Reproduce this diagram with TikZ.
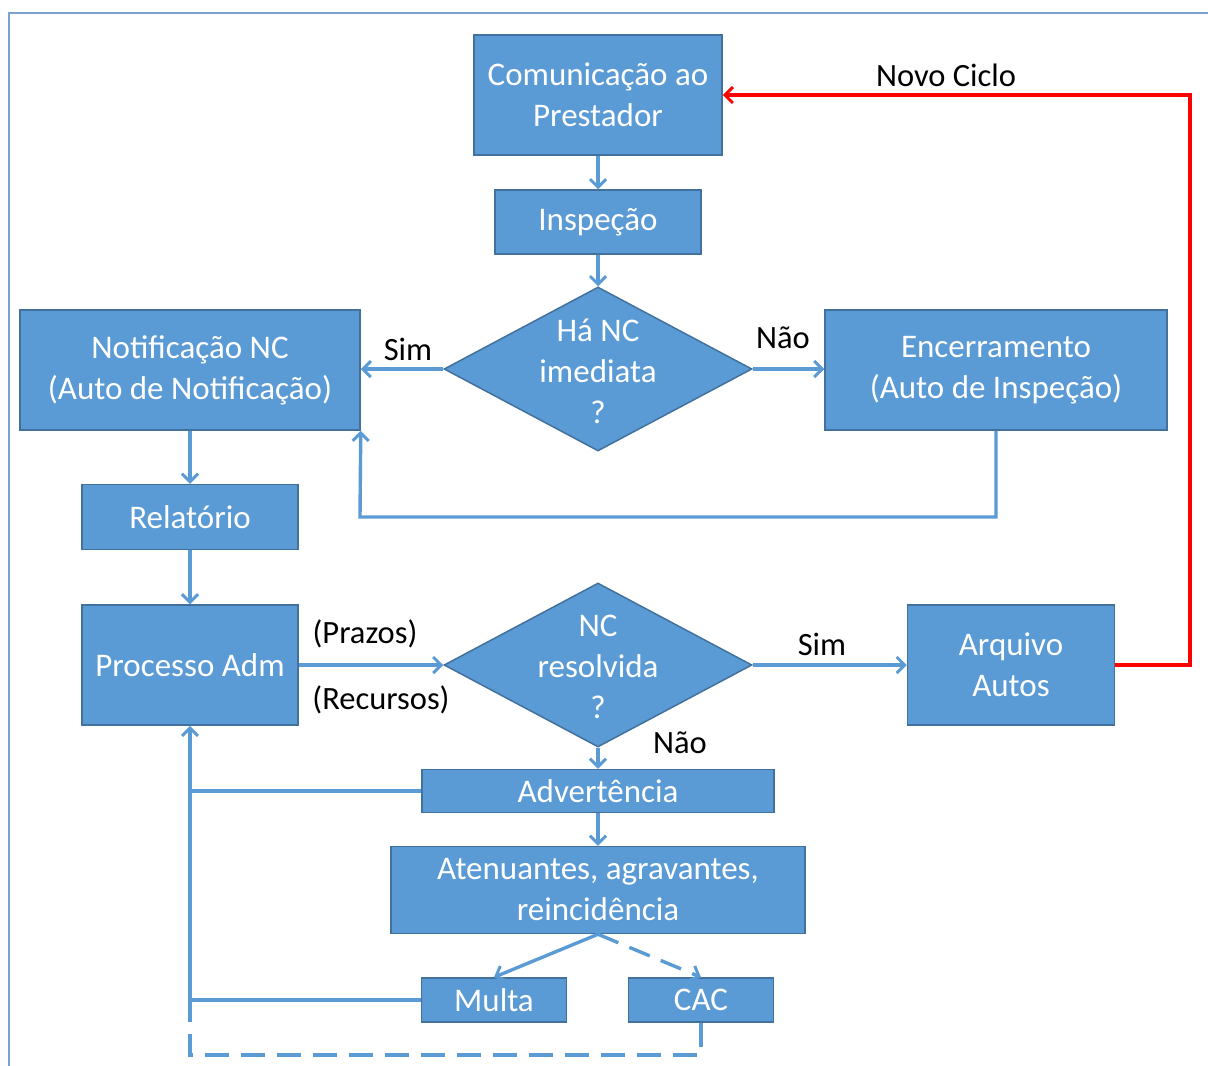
\documentclass[tikz,border=0pt]{standalone}
\usepackage{fontspec}
\setmainfont{Carlito}
\usetikzlibrary{arrows.meta,shapes.geometric}
\definecolor{boxblue}{HTML}{5B9BD5}
\definecolor{boxedge}{HTML}{41719C}
\definecolor{framec}{HTML}{7BA2CE}
\tikzset{
  box/.style={rectangle, draw=boxedge, line width=1.5pt, fill=boxblue, text=white, align=center, inner sep=0pt,
    font=\fontsize{33}{41}\selectfont},
  dia/.style={diamond, draw=boxedge, line width=1.5pt, fill=boxblue, inner sep=0pt},
  diatext/.style={text=white, align=center, inner sep=0pt, font=\fontsize{33}{41}\selectfont},
  lbl/.style={text=black, inner sep=0pt, font=\fontsize{32.5}{41}\selectfont},
  conn/.style={draw=boxblue, line width=3.4pt, -{Straight Barb[length=8pt,width=16pt,line width=3pt]}},
  plain/.style={draw=boxblue, line width=3.4pt},
  dashconn/.style={draw=boxblue, line width=3.4pt, dash pattern=on 24pt off 12pt},
  redconn/.style={draw=red, line width=4pt, -{Straight Barb[length=8pt,width=16pt,line width=3pt]}}
}
\begin{document}
\begin{tikzpicture}[x=1pt,y=-1pt]
\useasboundingbox (0,0) rectangle (1208,1066);
\draw[framec, line width=1.6pt] (9,1066) -- (9,13) -- (1208,13);

\node[box, minimum width=248pt, minimum height=120pt] (com) at (598,95) {Comunicação ao\\Prestador};
\node[box, minimum width=206pt, minimum height=64pt] (insp) at (598,222) {Inspeção};
\node[dia, minimum width=308pt, minimum height=164pt] (d1) at (598,369) {};
\node[diatext] (d1t) at (598,371) {Há NC\\imediata\\?};
\node[box, minimum width=340pt, minimum height=120pt] (notif) at (190,370) {Notificação NC\\(Auto de Notificação)};
\node[box, minimum width=342pt, minimum height=120pt] (enc) at (996,370) {Encerramento\\(Auto de Inspeção)};
\node[box, minimum width=216pt, minimum height=65pt] (rel) at (190,517) {Relatório};
\node[box, minimum width=216pt, minimum height=120pt] (proc) at (190,665) {Processo Adm};
\node[dia, minimum width=308pt, minimum height=164pt] (d2) at (598,665) {};
\node[diatext] (d2t) at (598,667) {NC\\resolvida\\?};
\node[box, minimum width=207pt, minimum height=120pt] (arq) at (1011,665) {Arquivo\\Autos};
\node[box, minimum width=352pt, minimum height=43pt] (adv) at (598,791) {Advertência};
\node[box, minimum width=414pt, minimum height=87pt] (aten) at (598,890) {Atenuantes, agravantes,\\reincidência};
\node[box, minimum width=145pt, minimum height=44pt] (multa) at (494,1000) {Multa};
\node[box, minimum width=145pt, minimum height=44pt] (cac) at (701,1000) {CAC};

\node[lbl] (lsim1) at (408,349) {Sim};
\node[lbl] (lnao1) at (783,338) {Não};
\node[lbl] (lpraz) at (365,634) {(Prazos)};
\node[lbl] (lrec) at (381,700) {(Recursos)};
\node[lbl] (lsim2) at (822,644) {Sim};
\node[lbl] (lnao2) at (680,743) {Não};
\node[lbl] (lnovo) at (946,75) {Novo Ciclo};

\coordinate (c1) at (360,517);
\coordinate (c2) at (701,1055);
\coordinate (c3) at (190,1055);
\coordinate (nc) at (1190,95);

\draw[conn] (com) -- (insp);
\draw[conn] (insp) -- (d1);
\draw[conn] (d1.west) -- (notif.east |- d1.west);
\draw[conn] (d1.east) -- (enc.west |- d1.east);
\draw[conn] (enc.south) |- (c1) -- (notif.south east);
\draw[conn] (notif) -- (rel);
\draw[conn] (rel) -- (proc);
\draw[conn] (proc.east) -- (d2.west);
\draw[conn] (d2.east) -- (arq.west);
\draw[conn] (d2.south) -- (adv.north);
\draw[plain] (adv.west) -- (adv.west -| proc.south);
\draw[conn] (multa.west) -| (proc.south);
\draw[conn] (adv) -- (aten);
\draw[conn] (aten.south) -- (multa.north);
\draw[conn, dash pattern=on 22pt off 12pt] (aten.south) -- (cac.north);
\draw[dashconn] (cac.south) -- (c2) -- (c3) -- (c3 |- multa.west);
\draw[redconn] (arq.east) -| (nc) -- (com.east);
\end{tikzpicture}
\end{document}
